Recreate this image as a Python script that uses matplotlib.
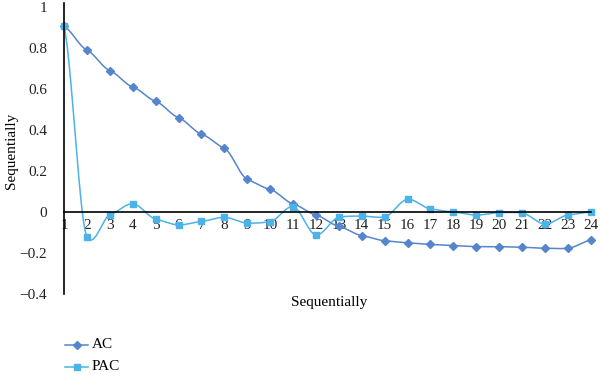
import numpy as np
import matplotlib.pyplot as plt

lags = list(range(1, 25))
ac = [0.905, 0.79, 0.69, 0.61, 0.54, 0.46, 0.38, 0.31, 0.16, 0.11, 0.04, -0.015,
      -0.07, -0.115, -0.14, -0.15, -0.158, -0.164, -0.169, -0.169, -0.172, -0.177, -0.177, -0.137]
pac = [0.905, -0.12, -0.015, 0.04, -0.034, -0.063, -0.046, -0.026, -0.054, -0.047, 0.026, -0.112,
       -0.026, -0.02, -0.024, 0.062, 0.015, 0.0, -0.015, -0.003, -0.005, -0.059, -0.015, 0.0]

AC_COL = "#5585CC"
PAC_COL = "#4CB2E8"


def smooth(x, y, n=20, k=0.45):
    # hermite curve through the points, like Excel "smoothed line"
    x = np.asarray(x, float)
    y = np.asarray(y, float)
    t = np.linspace(0, 1, n, endpoint=False)
    h00 = 2 * t ** 3 - 3 * t ** 2 + 1
    h10 = t ** 3 - 2 * t ** 2 + t
    h01 = -2 * t ** 3 + 3 * t ** 2
    h11 = t ** 3 - t ** 2
    my = np.gradient(y) * k
    xs, ys = [], []
    for i in range(len(x) - 1):
        xs.extend(x[i] + (x[i + 1] - x[i]) * t)
        ys.extend(h00 * y[i] + h10 * my[i] + h01 * y[i + 1] + h11 * my[i + 1])
    xs.append(x[-1])
    ys.append(y[-1])
    return xs, ys


plt.rcParams["font.family"] = "Liberation Serif"
fig = plt.figure(figsize=(6, 3.77), dpi=100)
ax = fig.add_axes([0.1067, 0.2202, 0.878, 0.7612])

sx, sy = smooth(lags, ac)
ax.plot(sx, sy, color=AC_COL, lw=1.1, clip_on=False)
ax.plot(lags, ac, ls="none", marker="D", ms=4, color=AC_COL, clip_on=False)
sx, sy = smooth(lags, pac)
ax.plot(sx, sy, color=PAC_COL, lw=1.1, clip_on=False)
ax.plot(lags, pac, ls="none", marker="s", ms=5, color=PAC_COL, clip_on=False)

ax.set_xlim(1, 24)
ax.set_ylim(-0.4, 1)
ax.spines["top"].set_visible(False)
ax.spines["right"].set_visible(False)
ax.spines["bottom"].set_position(("data", 0))
ax.spines["bottom"].set_linewidth(1.2)
ax.spines["left"].set_linewidth(1.2)
ax.spines["left"].set_bounds(-0.4, 1.02)

ax.set_xticks(lags)
ax.set_xticklabels([str(v) for v in lags])
ax.set_yticks([-0.4, -0.2, 0, 0.2, 0.4, 0.6, 0.8, 1])
ax.set_yticklabels(["\u22120.4", "\u22120.2", "0", "0.2", "0.4", "0.6", "0.8", "1"])
ax.tick_params(length=0, labelsize=11, colors="#222222")
ax.tick_params(axis="x", pad=5)
ax.tick_params(axis="y", pad=12)

fig.text(0.548, 0.198, "Sequentially", ha="center", va="center", fontsize=11)
fig.text(0.02, 0.6, "Sequentially", ha="center", va="center", fontsize=11, rotation=90)

# legend
fig.lines.append(plt.Line2D([0.108, 0.1275, 0.147], [0.085, 0.085, 0.085], color=AC_COL, lw=1.1,
                            marker="D", ms=4, markevery=[1], transform=fig.transFigure))
fig.lines.append(plt.Line2D([0.108, 0.1275, 0.147], [0.027, 0.027, 0.027], color=PAC_COL, lw=1.1,
                            marker="s", ms=5, markevery=[1], transform=fig.transFigure))
fig.text(0.153, 0.085, "AC", va="center", fontsize=11)
fig.text(0.153, 0.027, "PAC", va="center", fontsize=11)

fig.savefig("out.png", dpi=100)
